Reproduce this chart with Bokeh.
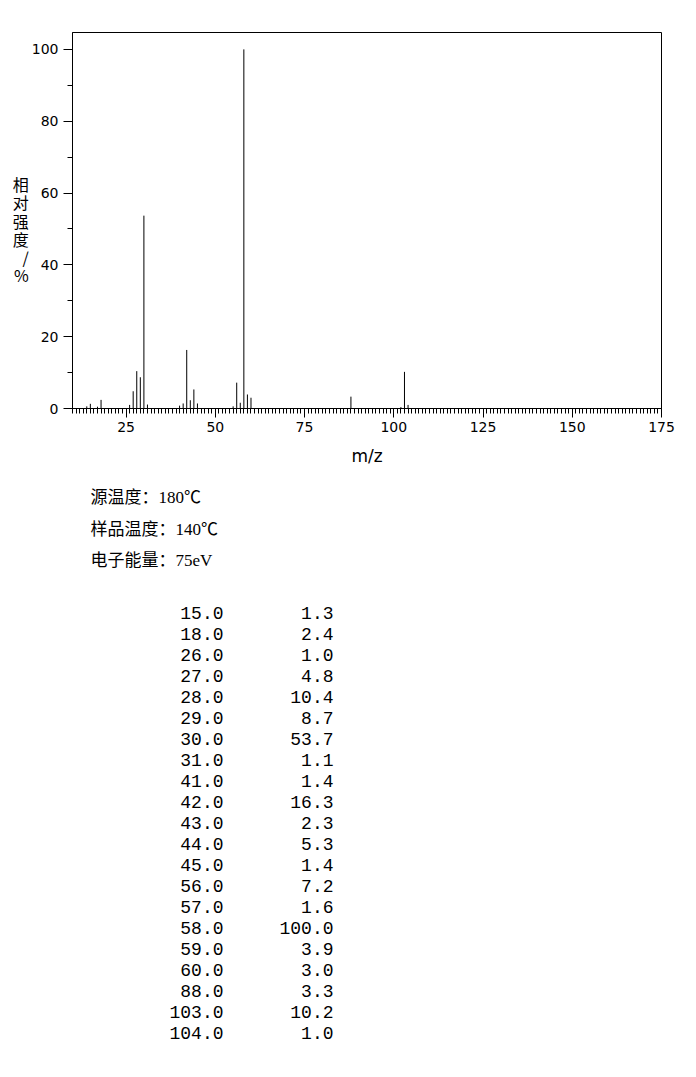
import math
from bokeh.plotting import figure
from bokeh.layouts import column
from bokeh.models import Range1d, FixedTicker, ColumnDataSource
from bokeh.core.properties import value
from bokeh.embed import file_html
from bokeh.resources import INLINE

# --- data ---
mz = [15.0, 18.0, 26.0, 27.0, 28.0, 29.0, 30.0, 31.0, 41.0, 42.0, 43.0,
      44.0, 45.0, 56.0, 57.0, 58.0, 59.0, 60.0, 88.0, 103.0, 104.0]
intensity = [1.3, 2.4, 1.0, 4.8, 10.4, 8.7, 53.7, 1.1, 1.4, 16.3, 2.3,
             5.3, 1.4, 7.2, 1.6, 100.0, 3.9, 3.0, 3.3, 10.2, 1.0]
minor_mz = [14.0, 17.0, 40.0, 55.0, 102.0]
minor_int = [0.6, 0.5, 0.8, 0.6, 0.4]
x_ticks = [25, 50, 75, 100, 125, 150, 175]
y_ticks = [0, 20, 40, 60, 80, 100]
y_title_chars = ["相", "对", "强", "度", "/", "%"]
info_lines = ["源温度：180℃", "样品温度：140℃", "电子能量：75eV"]

SANS = "DejaVu Sans"
CJK = "Noto Sans CJK SC"
MIX = "Liberation Serif, Noto Sans CJK SC"
MONO = "Liberation Mono"

# layout (page pixels)
F_LEFT, F_TOP, F_W, F_H = 72, 32, 589, 376
H1 = 478
F_BOTTOM = F_TOP + F_H

# --- spectrum figure ---
p = figure(width=688, height=H1, output_backend="svg", toolbar_location=None,
           x_range=Range1d(10, 175), y_range=Range1d(0, 104.7),
           min_border_left=F_LEFT, min_border_right=688 - F_LEFT - F_W,
           min_border_top=F_TOP, min_border_bottom=H1 - F_BOTTOM)
p.xgrid.visible = False
p.ygrid.visible = False
p.outline_line_color = "black"
p.outline_line_width = 1
p.background_fill_color = "white"
p.border_fill_color = "white"

all_mz = mz + minor_mz
all_int = intensity + minor_int
src = ColumnDataSource(dict(x=all_mz, y0=[0] * len(all_mz), y1=all_int))
p.segment(x0="x", y0="y0", x1="x", y1="y1", source=src,
          line_color="black", line_width=1)

xa = p.xaxis[0]
xa.ticker = FixedTicker(ticks=x_ticks, minor_ticks=list(range(10, 176)))
xa.major_tick_out = 9
xa.major_tick_in = 0
xa.minor_tick_out = 5
xa.minor_tick_in = 0
xa.axis_line_color = "black"
xa.major_tick_line_color = "black"
xa.minor_tick_line_color = "black"
xa.major_label_text_font = SANS
xa.major_label_text_font_size = "14px"
xa.major_label_text_color = "black"
xa.major_label_standoff = 4
xa.axis_label = "m/z"
xa.axis_label_text_font = SANS
xa.axis_label_text_font_size = "17px"
xa.axis_label_text_font_style = "normal"
xa.axis_label_text_color = "black"
xa.axis_label_standoff = 11

ya = p.yaxis[0]
ya.ticker = FixedTicker(ticks=y_ticks, minor_ticks=[10, 30, 50, 70, 90])
ya.major_tick_out = 9
ya.major_tick_in = 0
ya.minor_tick_out = 5
ya.minor_tick_in = 0
ya.axis_line_color = "black"
ya.major_tick_line_color = "black"
ya.minor_tick_line_color = "black"
ya.major_label_text_font = SANS
ya.major_label_text_font_size = "14px"
ya.major_label_text_color = "black"
ya.major_label_standoff = 5
ya.axis_label = " \n" + "\n".join(y_title_chars)
ya.axis_label_orientation = "horizontal"
ya.axis_label_text_font = CJK
ya.axis_label_text_font_size = "16px"
ya.axis_label_text_font_style = "normal"
ya.axis_label_text_color = "black"
ya.axis_label_text_line_height = 0.76
ya.axis_label_standoff = 0

# --- text figure (its frame is aligned with the spectrum frame; data = page px) ---
H2 = 590
q = figure(width=688, height=H2, output_backend="svg", toolbar_location=None,
           x_range=Range1d(F_LEFT, F_LEFT + F_W), y_range=Range1d(H1 + H2, H1),
           min_border=0)
q.axis.visible = False
q.xgrid.visible = False
q.ygrid.visible = False
q.outline_line_color = None

info_y = [497 + 31.5 * i for i in range(len(info_lines))]
q.text(x=[90] * len(info_lines), y=info_y, text=info_lines,
       text_font=value(MIX), text_font_size="17px", text_color="black",
       text_align="left", text_baseline="middle")

row_y = [612 + 21 * i for i in range(len(mz))]
q.text(x=[223] * len(mz), y=row_y, text=[f"{v:.1f}" for v in mz],
       text_font=value(MONO), text_font_size="18px", text_color="black",
       text_align="right", text_baseline="middle")
q.text(x=[333] * len(mz), y=row_y, text=[f"{v:.1f}" for v in intensity],
       text_font=value(MONO), text_font_size="18px", text_color="black",
       text_align="right", text_baseline="middle")

layout = column(p, q, spacing=0)
open("out.html", "w").write(file_html(layout, INLINE))
